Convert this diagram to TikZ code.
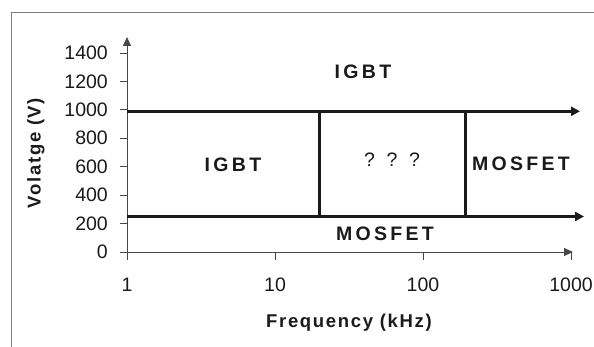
\documentclass[tikz,border=0pt]{standalone}
\usepackage{fontspec}
\setmainfont{Liberation Sans}
\newfontfamily\spacedfont[LetterSpace=17]{Liberation Sans}
\newfontfamily\titlefont[LetterSpace=9]{Liberation Sans}
\usetikzlibrary{arrows.meta}
\definecolor{ink}{HTML}{1A1A1A}
\definecolor{framegray}{HTML}{808080}
\tikzset{
  frameline/.style={draw=framegray, line width=1pt},
  axisline/.style={draw=ink!80, line width=0.9pt},
  axisarrow/.style={axisline, -{Triangle[length=9pt,width=8pt]}},
  tickline/.style={draw=ink!80, line width=0.9pt},
  boundary/.style={draw=ink, line width=3pt},
  boundaryarrow/.style={boundary, -{Triangle[length=9pt,width=9pt]}},
  ticklabel/.style={font=\fontsize{19.5}{22}\selectfont, text=ink, inner sep=0pt},
  region/.style={font=\fontsize{19.5}{22}\selectfont\spacedfont\bfseries, text=ink, inner sep=0pt},
  axislabel/.style={font=\fontsize{18.5}{21}\selectfont\titlefont\bfseries, text=ink, inner sep=0pt}
}
\begin{document}
\begin{tikzpicture}[x=1pt,y=-1pt]
  \useasboundingbox (0,0) rectangle (594,347);
  % partial chart frame
  \coordinate (frameBL) at (11,347);
  \coordinate (frameTL) at (11,13);
  \coordinate (frameTR) at (594,13);
  \draw[frameline] (frameBL) -- (frameTL) -- (frameTR);

  % axes
  \coordinate (origin) at (127,252);
  \coordinate (ytop) at (127,37);
  \coordinate (xend) at (573,252);
  \draw[axisarrow] (origin) -- (ytop);
  \draw[axisarrow] (origin) -- (xend);

  % voltage ticks (0..1400 V, 200 V steps)
  \foreach \v [count=\i from 0] in {0,200,400,600,800,1000,1200,1400} {
    \coordinate (yt\i) at (127,{252-\v*0.14215});
    \coordinate (ytl\i) at (120,{252-\v*0.14215});
    \draw[tickline] (ytl\i) -- (yt\i);
    \node[ticklabel, anchor=east] (ylab\i) at (108,{252-\v*0.14215}) {\v};
  }

  % frequency ticks (log scale, one decade = 148)
  \foreach \f [count=\i from 0] in {1,10,100,1000} {
    \coordinate (xt\i) at ({127+148*\i},252);
    \coordinate (xtb\i) at ({127+148*\i},260);
    \draw[tickline] (xt\i) -- (xtb\i);
    \node[ticklabel] (xlab\i) at ({127+148*\i},285) {\f};
  }

  % axis titles
  \node[axislabel] (xtitle) at (349,323) {Frequency (kHz)};
  \node[axislabel, rotate=90] (ytitle) at (36,153) {Volatge (V)};

  % region boundaries: 1000 V, 250 V, 20 kHz, 200 kHz
  \coordinate (hiL) at (127,111.3);
  \coordinate (hiR) at (580,111.3);
  \coordinate (loL) at (127,216.5);
  \coordinate (loR) at (584,216.5);
  \coordinate (aTop) at (319.6,111.3);
  \coordinate (aBot) at (319.6,216.5);
  \coordinate (bTop) at (465.6,111.3);
  \coordinate (bBot) at (465.6,216.5);
  \draw[boundaryarrow] (hiL) -- (hiR);
  \draw[boundaryarrow] (loL) -- (loR);
  \draw[boundary, line width=2.4pt] (aTop) -- (aBot);
  \draw[boundary, line width=2.4pt] (bTop) -- (bBot);

  % region labels
  \node[region] (igbtTop) at (363,72) {IGBT};
  \node[region] (igbtLeft) at (233,165) {IGBT};
  \node[font=\fontsize{19.5}{22}\selectfont\spacedfont, text=ink, inner sep=0pt] (unknown) at (392,160) {? ? ?};
  \node[region] (mosRight) at (521,164) {MOSFET};
  \node[region] (mosBottom) at (385,234) {MOSFET};
\end{tikzpicture}
\end{document}
